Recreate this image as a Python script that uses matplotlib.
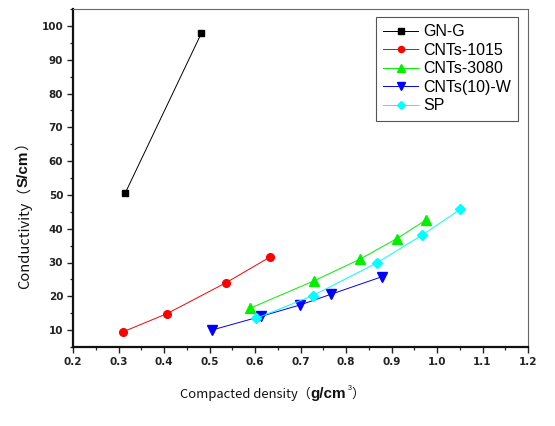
import matplotlib
matplotlib.use("Agg")
import matplotlib.pyplot as plt
from matplotlib.ticker import MultipleLocator

# ---- data ----
gng_x = [0.315, 0.482]
gng_y = [50.6, 97.8]
c1015_x = [0.310, 0.407, 0.536, 0.634]
c1015_y = [9.5, 14.9, 24.0, 31.7]
c3080_x = [0.588, 0.730, 0.831, 0.912, 0.976]
c3080_y = [16.4, 24.6, 31.0, 37.1, 42.6]
c10w_x = [0.505, 0.614, 0.698, 0.767, 0.879]
c10w_y = [10.0, 14.1, 17.4, 20.6, 25.8]
sp_x = [0.603, 0.727, 0.868, 0.967, 1.051]
sp_y = [13.5, 20.2, 29.9, 38.1, 45.7]
labels = ["GN-G", "CNTs-1015", "CNTs-3080", "CNTs(10)-W", "SP"]
x_ticks = [0.2, 0.3, 0.4, 0.5, 0.6, 0.7, 0.8, 0.9, 1.0, 1.1, 1.2]
y_ticks = [10, 20, 30, 40, 50, 60, 70, 80, 90, 100]

fig = plt.figure(figsize=(5.55, 4.26), dpi=100)
ax = fig.add_axes([73/555, 1-347/426, (528-73)/555, (347-9)/426])

series = [
    (gng_x, gng_y, "black", "s", 5.0),
    (c1015_x, c1015_y, "red", "o", 5.5),
    (c3080_x, c3080_y, "#00f000", "^", 6.5),
    (c10w_x, c10w_y, "blue", "v", 6.5),
    (sp_x, sp_y, "cyan", "D", 5.0),
]
for (xs, ys, c, m, ms), lab in zip(series, labels):
    ax.plot(xs, ys, color=c, lw=0.7, marker=m, ms=ms, mfc=c, mec=c, label=lab)

ax.set_xlim(0.2, 1.2)
ax.set_ylim(5, 105)
ax.set_xticks(x_ticks)
ax.set_yticks(y_ticks)
ax.set_xticklabels([f"{v:.1f}" for v in x_ticks])
ax.xaxis.set_minor_locator(MultipleLocator(0.05))
ax.yaxis.set_minor_locator(MultipleLocator(5))
ax.tick_params(which="major", direction="out", length=4, width=1.0, colors="#222222",
               labelsize=7.5, pad=3, top=False, right=False)
ax.tick_params(which="minor", direction="out", length=2.2, width=0.9, colors="#222222",
               top=False, right=False)
for lbl in ax.get_xticklabels() + ax.get_yticklabels():
    lbl.set_fontweight("bold")
    lbl.set_family("DejaVu Sans")
ax.spines["left"].set_linewidth(1.6)
ax.spines["bottom"].set_linewidth(1.6)
ax.spines["left"].set_color("#111111")
ax.spines["bottom"].set_color("#111111")
ax.spines["top"].set_linewidth(0.8)
ax.spines["right"].set_linewidth(0.8)
ax.spines["top"].set_color("#666666")
ax.spines["right"].set_color("#666666")

leg = ax.legend(loc="upper right", bbox_to_anchor=(0.978, 0.976), frameon=True,
                fancybox=False, framealpha=1, edgecolor="#555555",
                prop={"family": "Liberation Sans", "size": 11.5},
                handlelength=2.2, handletextpad=0.3, labelspacing=0.22,
                borderpad=0.45, borderaxespad=0, markerscale=0.8)
leg.get_frame().set_linewidth(0.8)

# axis labels with mixed styles
cjk = ["Noto Sans CJK SC", "DejaVu Sans"]
fig.canvas.draw()
r = fig.canvas.get_renderer()

t1 = fig.text(180/555, 1-394/426, "Compacted density（", family=cjk, fontsize=9.4,
              ha="left", va="center", color="#111111")
fig.canvas.draw()
bb = t1.get_window_extent(r)
t2 = fig.text(bb.x1/fig.bbox.width, 1-394/426, "g/cm", family="Liberation Sans",
              fontsize=11, fontweight="bold", ha="left", va="center", color="#111111")
fig.canvas.draw()
bb2 = t2.get_window_extent(r)
t3 = fig.text(bb2.x1/fig.bbox.width + 1/555, 1-388/426, "3", family="Liberation Sans",
              fontsize=5, ha="left", va="center", color="#111111")
fig.canvas.draw()
bb3 = t3.get_window_extent(r)
fig.text(bb3.x1/fig.bbox.width, 1-394/426, "）", family=cjk, fontsize=9.4,
         ha="left", va="center", color="#111111")

y1 = fig.text(24/555, 1-289/426, "Conductivity（", family=cjk, fontsize=10.6,
              rotation=90, ha="center", va="bottom", color="#111111")
fig.canvas.draw()
yb = y1.get_window_extent(r)
y2 = fig.text(24/555, yb.y1/fig.bbox.height, "S/cm", family="Liberation Sans",
              fontsize=11, fontweight="bold", rotation=90, ha="center", va="bottom",
              color="#111111")
fig.canvas.draw()
yb2 = y2.get_window_extent(r)
fig.text(24/555, yb2.y1/fig.bbox.height, "）", family=cjk, fontsize=10.6,
         rotation=90, ha="center", va="bottom", color="#111111")

fig.savefig("out.png", dpi=100)
